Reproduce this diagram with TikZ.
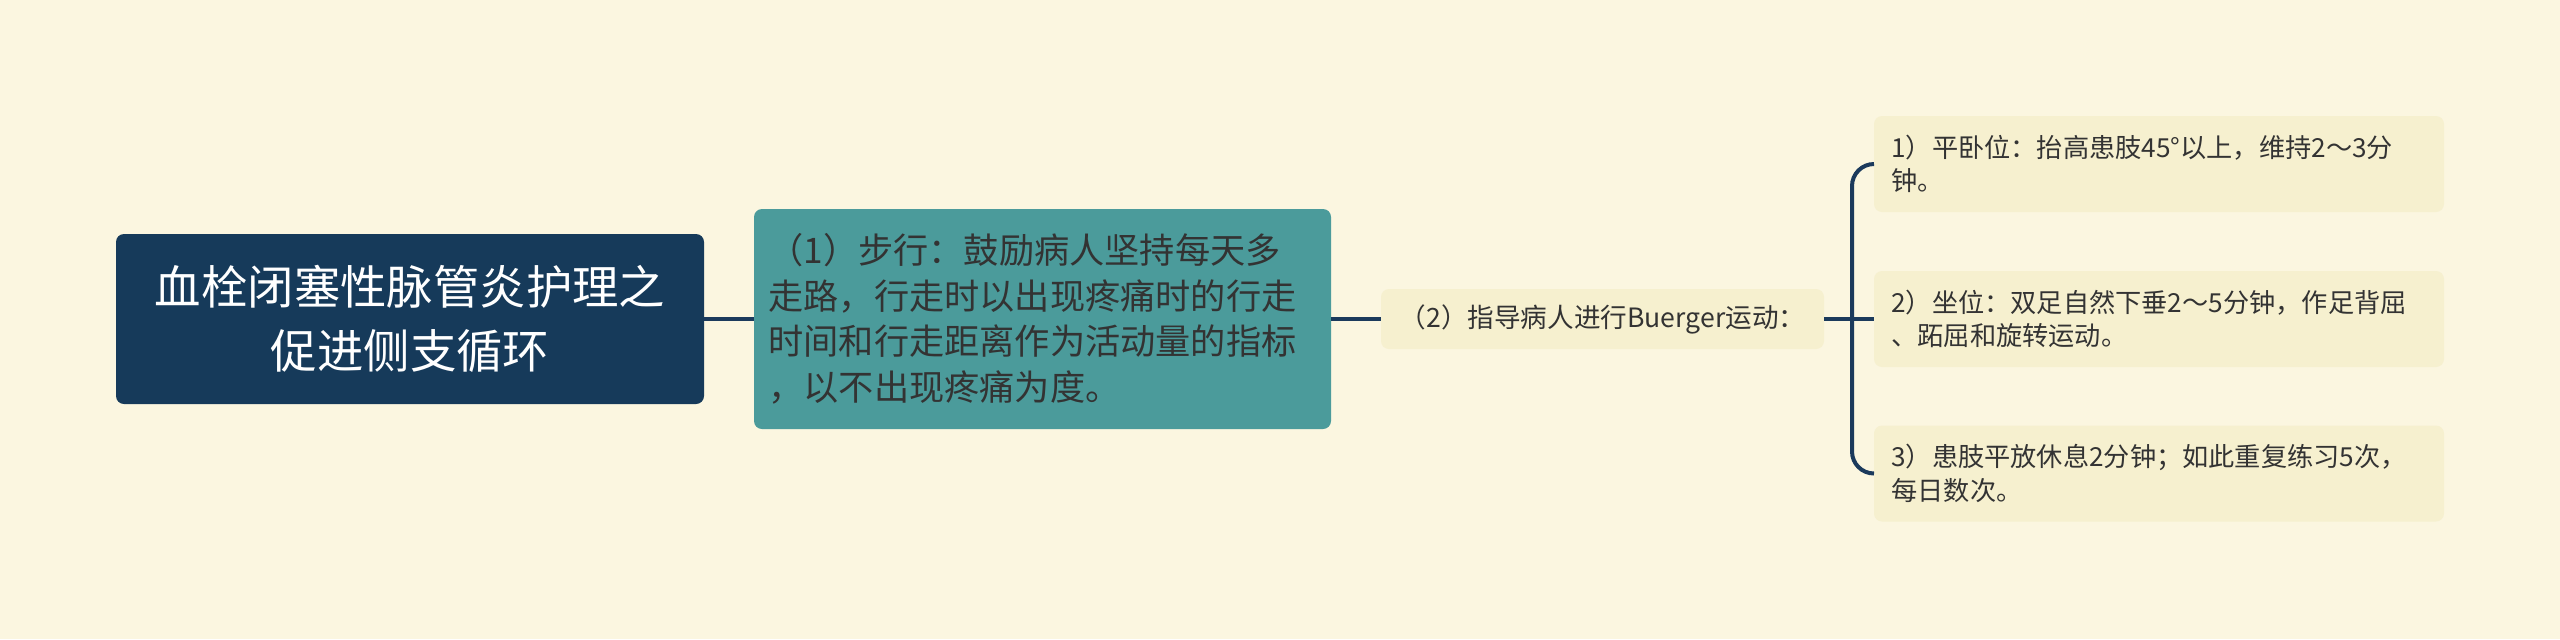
\documentclass[tikz,border=0pt]{standalone}
\usepackage{fontspec}
\setmainfont{Noto Sans CJK SC}
\definecolor{bg}{HTML}{FBF6E0}
\definecolor{navy}{HTML}{163A5A}
\definecolor{teal1}{HTML}{4B9B9B}
\definecolor{leaf}{HTML}{F6F0CF}
\definecolor{conn}{HTML}{1B3A5C}
\definecolor{txt}{HTML}{333333}
\begin{document}
\begin{tikzpicture}[x=0.5pt,y=-0.5pt,
  box/.style={rounded corners=4pt,inner sep=0pt,outer sep=0pt,draw=none},
  rootbox/.style={box,fill=navy,text=white,minimum width=294pt,minimum height=85pt,
     align=center,font=\fontsize{23.2pt}{31.7pt}\selectfont},
  tealbox/.style={box,fill=teal1,text=txt,minimum width=288.5pt,minimum height=110pt},
  tealtext/.style={text=txt,align=left,anchor=west,inner sep=0pt,font=\fontsize{17.6pt}{22.8pt}\selectfont},
  midbox/.style={box,fill=leaf,text=txt,minimum width=221.5pt,minimum height=30pt,
     font=\fontsize{13.3pt}{16.7pt}\selectfont},
  leafbox/.style={box,fill=leaf,minimum width=285pt,minimum height=48pt},
  leaftext/.style={text=txt,align=left,anchor=west,inner sep=0pt,font=\fontsize{13.1pt}{16.7pt}\selectfont},
  link/.style={draw=conn,line width=2pt}]
\fill[bg] (0,0) rectangle (2560,639);
\useasboundingbox (0,0) rectangle (2560,639);
\node[rootbox] (root) at (410,319) {血栓闭塞性脉管炎护理之\\促进侧支循环};
\node[tealbox] (n1) at (1042.5,319) {};
\node[tealtext] (n1t) at (768,319) {（1）步行：鼓励病人坚持每天多\\走路，行走时以出现疼痛时的行走\\时间和行走距离作为活动量的指标\\，以不出现疼痛为度。};
\node[midbox] (n2) at (1602.5,319) {（2）指导病人进行Buerger运动：};
\node[leafbox] (l1) at (2159,164) {};
\node[leafbox] (l2) at (2159,319) {};
\node[leafbox] (l3) at (2159,473.5) {};
\node[leaftext] (l1t) at (1891,164) {1）平卧位：抬高患肢45°以上，维持2～3分\\钟。};
\node[leaftext] (l2t) at (1891,319) {2）坐位：双足自然下垂2～5分钟，作足背屈\\、跖屈和旋转运动。};
\node[leaftext] (l3t) at (1891,473.5) {3）患肢平放休息2分钟；如此重复练习5次，\\每日数次。};
\coordinate (b) at (1852,319);
\draw[link] (root.east) -- (n1.west);
\draw[link] (n1.east) -- (n2.west);
\draw[link] (n2.east) -- (l2.west);
\draw[link,rounded corners=11pt] (l1.west) -| (b) |- (l3.west);
\end{tikzpicture}
\end{document}
